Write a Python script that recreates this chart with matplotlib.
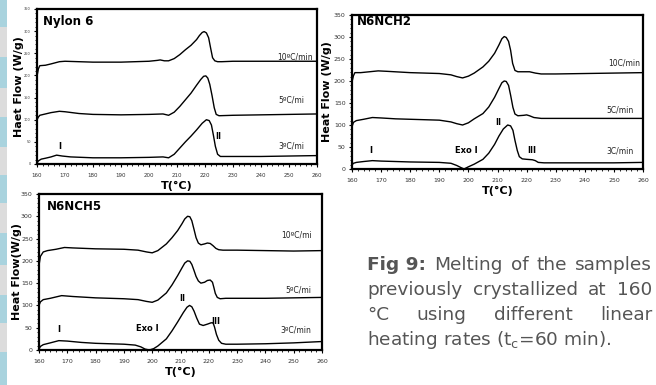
import matplotlib
matplotlib.use("Agg")
import matplotlib.pyplot as plt
from matplotlib.patches import Rectangle
from matplotlib.ticker import MultipleLocator

# Nylon 6
T_ny10 = [160, 160.5, 161, 163, 165, 168, 170, 175, 180, 190, 200, 203, 204, 205.5, 207, 209, 211, 213,
          215, 217, 218, 219, 219.7, 220.5, 221.3, 222, 222.7, 223.5, 224.5, 226, 230, 240, 250, 260]
hf_ny10 = [198, 215, 222, 223, 226, 231, 232, 231, 230, 230, 232, 234, 235, 233, 233, 238, 247, 258,
           268, 281, 290, 297, 299, 296, 285, 262, 240, 233, 231, 231, 232, 232, 232, 232]
T_ny5 = [160, 160.5, 161, 163, 165, 168, 170, 175, 180, 190, 200, 205, 207, 209, 211, 213, 215, 217,
         218.5, 219.5, 220.3, 221, 221.7, 222.5, 223.3, 224, 225, 230, 240, 250, 260]
hf_ny5 = [100, 106, 110, 113, 116, 119, 118, 114, 112, 111, 112, 113, 110, 117, 130, 145, 160, 178,
          191, 198, 199, 194, 180, 155, 127, 112, 109, 110, 111, 112, 113]
T_ny3 = [160, 160.5, 161.5, 163, 165, 167, 169, 172, 180, 190, 200, 205, 207, 209, 211, 213, 215, 217,
         219, 220.5, 221.5, 222.3, 223, 223.7, 224.5, 225.5, 230, 240, 250, 260]
hf_ny3 = [2, 7, 11, 13, 16, 20, 18, 16, 14, 14, 15, 16, 14, 22, 36, 50, 63, 77,
          92, 100, 98, 88, 65, 40, 22, 17, 17, 17, 18, 19]

# N6NCH2
T_c2_10 = [160, 160.5, 161, 163, 166, 169, 172, 180, 190, 194, 196, 198, 200, 202, 205, 207, 209, 210.5,
           211.5, 212.3, 213, 213.8, 214.5, 215.2, 216, 217, 219, 221, 223, 225, 230, 240, 250, 260]
hf_c2_10 = [198, 212, 219, 219, 221, 223, 222, 219, 217, 214, 210, 207, 211, 218, 232, 245, 263, 282,
            296, 301, 299, 290, 270, 240, 224, 221, 221, 221, 218, 216, 216, 217, 218, 219]
T_c2_5 = [160, 160.5, 161.5, 164, 167, 170, 175, 180, 190, 194, 196, 198, 200, 202, 205, 207, 209, 210.5,
          211.5, 212.3, 213, 213.8, 214.5, 215.3, 216, 217, 219, 220, 221, 222.5, 225, 230, 240, 250, 260]
hf_c2_5 = [96, 106, 110, 113, 117, 116, 114, 113, 111, 107, 103, 100, 105, 114, 126, 141, 163, 183,
           196, 200, 199, 190, 168, 140, 125, 121, 122, 123, 121, 117, 115, 115, 115, 115, 115]
T_c2_3 = [160, 160.5, 161.5, 164, 167, 170, 175, 180, 190, 194, 196, 197.5, 198.5, 200, 202, 205, 207,
          209, 210.5, 212, 213.5, 214.5, 215.3, 216, 216.8, 217.5, 218.5, 220, 222, 223, 224, 226, 230,
          240, 250, 260]
hf_c2_3 = [9, 13, 15, 17, 19, 18, 17, 16, 15, 13, 8, 3, 0, 5, 11, 22, 36,
           56, 75, 91, 100, 98, 88, 65, 42, 28, 23, 22, 21, 19, 15, 14, 14,
           14, 14, 15]

# N6NCH5
T_c5_10 = [160, 160.5, 161.5, 163, 166, 169, 172, 180, 190, 195, 198, 200, 202, 205, 207, 209, 210.5,
           211.5, 212.5, 213.3, 214, 214.8, 215.5, 216.3, 217.2, 218.5, 219.5, 220.5, 221.5, 222.5, 223.5,
           225, 230, 240, 250, 260]
hf_c5_10 = [190, 210, 220, 223, 226, 230, 229, 227, 226, 224, 220, 218, 223, 238, 252, 268, 283,
            294, 300, 299, 290, 270, 252, 240, 236, 238, 240, 239, 234, 228, 225,
            224, 224, 223, 222, 223]
T_c5_5 = [160, 160.5, 161.5, 164, 168, 172, 180, 190, 195, 198, 200, 202, 205, 207, 209, 210.5, 211.5,
          212.5, 213.3, 214, 214.8, 215.5, 216.3, 217.2, 218.5, 219.5, 220.5, 221.3, 221.8, 222.3, 223,
          224, 226, 230, 240, 250, 260]
hf_c5_5 = [100, 108, 113, 116, 122, 120, 117, 115, 113, 109, 107, 112, 128, 146, 167, 184, 195,
           200, 199, 192, 178, 165, 155, 150, 152, 156, 157, 152, 140, 127, 118,
           115, 116, 116, 116, 117, 118]
T_c5_3 = [160, 160.5, 161.5, 164, 167, 170, 175, 180, 190, 194, 196, 197.5, 199, 200.5, 202, 205, 207,
          209, 211, 212.3, 213.2, 214, 214.8, 215.7, 216.7, 218, 219.5, 220.8, 221.5, 222, 222.7, 223.5,
          224.5, 226, 230, 240, 250, 260]
hf_c5_3 = [2, 8, 12, 16, 21, 20, 17, 15, 13, 11, 7, 2, 0, 3, 9, 25, 43,
           63, 84, 96, 100, 97, 87, 72, 58, 55, 58, 61, 61, 52, 35, 22,
           15, 13, 13, 14, 16, 19]

W, H = 656, 385
fig = plt.figure(figsize=(W / 100, H / 100), dpi=100)

# striped page margin on the left
stripe_blue = [(0, 27), (57, 88), (117, 147), (175, 203), (233, 265), (295, 323), (352, 385)]
stripe_gray = [(27, 57), (88, 117), (147, 175), (203, 233), (265, 295), (323, 352)]
for y0, y1 in stripe_blue:
    fig.add_artist(Rectangle((0, 1 - y1 / H), 7 / W, (y1 - y0) / H, transform=fig.transFigure,
                             facecolor="#a9d3de", edgecolor="none"))
for y0, y1 in stripe_gray:
    fig.add_artist(Rectangle((0, 1 - y1 / H), 7 / W, (y1 - y0) / H, transform=fig.transFigure,
                             facecolor="#dcdcdc", edgecolor="none"))


def make_axes(left, top, right, bottom):
    return fig.add_axes([left / W, 1 - bottom / H, (right - left) / W, (bottom - top) / H])


def style(ax, ysize, xsize, ylabel, ylab_x):
    ax.set_xlim(160, 260)
    ax.set_ylim(0, 350)
    ax.xaxis.set_major_locator(MultipleLocator(10))
    ax.xaxis.set_minor_locator(MultipleLocator(2))
    ax.yaxis.set_major_locator(MultipleLocator(50))
    ax.yaxis.set_minor_locator(MultipleLocator(10))
    ax.tick_params(which="major", direction="out", length=2.5, width=0.8, pad=2)
    ax.tick_params(which="minor", direction="out", length=1.2, width=0.6)
    ax.tick_params(axis="y", labelsize=ysize, labelcolor="#333333")
    ax.tick_params(axis="x", labelsize=xsize, labelcolor="#333333", pad=4)
    for s in ax.spines.values():
        s.set_linewidth(1.6)
    ax.set_xlabel("T(°C)", fontsize=8, fontweight="bold", labelpad=2)
    ax.set_ylabel(ylabel, fontsize=8, fontweight="bold")
    ax.yaxis.set_label_coords(ylab_x, 0.5)


lbl = dict(fontsize=5.5, ha="center", va="center", color="#222222")
bold = dict(fontsize=6, ha="center", va="center", fontweight="bold")

# Nylon 6
ax1 = make_axes(37, 9, 317, 164)
for t, h in [(T_ny10, hf_ny10), (T_ny5, hf_ny5), (T_ny3, hf_ny3)]:
    ax1.plot(t, h, color="black", lw=1.0)
style(ax1, 2.5, 4, "Haet Flow (W/g)", -0.045)
ax1.text(162, 322, "Nylon 6", fontsize=8.5, fontweight="bold", va="center")
ax1.text(252.3, 241, "10ºC/min", **lbl)
ax1.text(251, 144, "5ºC/mi", **lbl)
ax1.text(251, 40, "3ºC/mi", **lbl)
ax1.text(168.3, 40, "I", **bold)
ax1.text(224.6, 62, "II", **bold)

# N6NCH2
ax2 = make_axes(352, 15, 643, 169)
for t, h in [(T_c2_10, hf_c2_10), (T_c2_5, hf_c2_5), (T_c2_3, hf_c2_3)]:
    ax2.plot(t, h, color="black", lw=1.0)
style(ax2, 4.5, 4.5, "Heat Flow (W/g)", -0.07)
ax2.text(161.7, 335, "N6NCH2", fontsize=8.5, fontweight="bold", va="center")
ax2.text(253.4, 242, "10C/min", **lbl)
ax2.text(252.2, 133, "5C/min", **lbl)
ax2.text(252.2, 42, "3C/min", **lbl)
ax2.text(166.3, 42, "I", **bold)
ax2.text(199.4, 42, "Exo I", **bold)
ax2.text(210.3, 105, "II", **bold)
ax2.text(221.7, 42, "III", **bold)

# N6NCH5
ax3 = make_axes(39, 194, 322, 350)
for t, h in [(T_c5_10, hf_c5_10), (T_c5_5, hf_c5_5), (T_c5_3, hf_c5_3)]:
    ax3.plot(t, h, color="black", lw=1.0)
style(ax3, 4.5, 4.5, "Heat Flow(W/g)", -0.06)
ax3.text(162.7, 322, "N6NCH5", fontsize=8.5, fontweight="bold", va="center")
ax3.text(250.9, 257, "10ºC/mi", **lbl)
ax3.text(251.5, 135, "5ºC/mi", **lbl)
ax3.text(250.9, 45, "3ºC/min", **lbl)
ax3.text(167.1, 45, "I", **bold)
ax3.text(198.1, 49, "Exo I", **bold)
ax3.text(210.7, 116, "II", **bold)
ax3.text(222.6, 65, "III", **bold)

# caption, justified between x0 and x1
cap_lines = [
    [("Fig 9:", "bold"), ("Melting", "normal"), ("of", "normal"), ("the", "normal"), ("samples", "normal")],
    [("previously", "normal"), ("crystallized", "normal"), ("at", "normal"), ("160", "normal")],
    [("°C", "normal"), ("using", "normal"), ("different", "normal"), ("linear", "normal")],
]
last_line = "heating rates (t$_{\\mathrm{c}}$=60 min)."
x0, x1 = 367, 652
baselines = [270, 295, 320, 345]
cap_size = 13.3
cap_color = "#555555"

renderer = fig.canvas.get_renderer()
for words, base in zip(cap_lines, baselines):
    arts = [fig.text(0, 1 - base / H, w, fontsize=cap_size, fontweight=fw, color=cap_color,
                     va="baseline") for w, fw in words]
    widths = [a.get_window_extent(renderer).width for a in arts]
    gap = (x1 - x0 - sum(widths)) / (len(arts) - 1)
    x = x0
    for a, w in zip(arts, widths):
        a.set_x(x / W)
        x += w + gap
fig.text(x0 / W, 1 - baselines[3] / H, last_line, fontsize=cap_size, color=cap_color, va="baseline")

fig.savefig("out.png", dpi=100)
